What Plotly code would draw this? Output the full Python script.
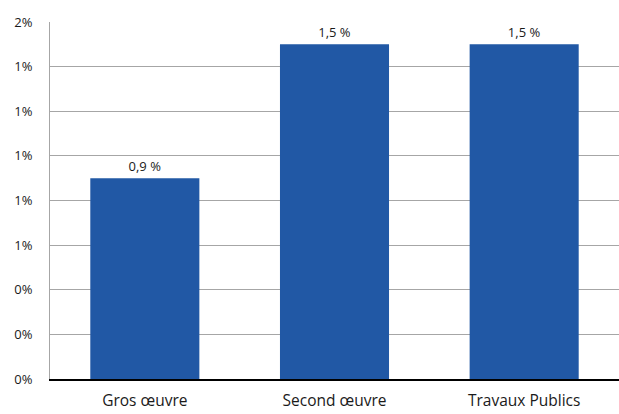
import plotly.graph_objects as go

categories = ["Gros œuvre", "Second œuvre", "Travaux Publics"]
values = [0.9, 1.5, 1.5]
bar_labels = ["0,9 %", "1,5 %", "1,5 %"]
tick_vals = [0, 0.2, 0.4, 0.6, 0.8, 1.0, 1.2, 1.4, 1.6]
tick_text = ["0%", "0%", "0%", "1%", "1%", "1%", "1%", "1%", "2%"]

fig = go.Figure(go.Bar(
    x=categories, y=values, text=bar_labels, textposition="outside",
    marker=dict(color="#2158a5", line=dict(width=0)),
    width=0.575, cliponaxis=False,
    textfont=dict(size=13, color="#1a1a1a", family="Open Sans"),
))
fig.update_layout(
    width=619, height=414,
    margin=dict(l=50, r=0, t=22, b=35),
    paper_bgcolor="white", plot_bgcolor="white",
    font=dict(family="Open Sans", color="#1a1a1a"),
    showlegend=False,
    xaxis=dict(showline=True, linecolor="black", linewidth=1.5, ticks="",
               tickfont=dict(size=15.5), ticklabelstandoff=7, automargin=False,
               showgrid=False, zeroline=False),
    yaxis=dict(range=[0, 1.6], tickvals=tick_vals, ticktext=tick_text,
               showgrid=True, gridcolor="#a6a6a6", gridwidth=1,
               showline=True, linecolor="#a6a6a6", linewidth=1, automargin=False,
               zeroline=False, ticks="", tickfont=dict(size=13),
               ticklabelstandoff=14),
)
fig.write_html("out.html")
